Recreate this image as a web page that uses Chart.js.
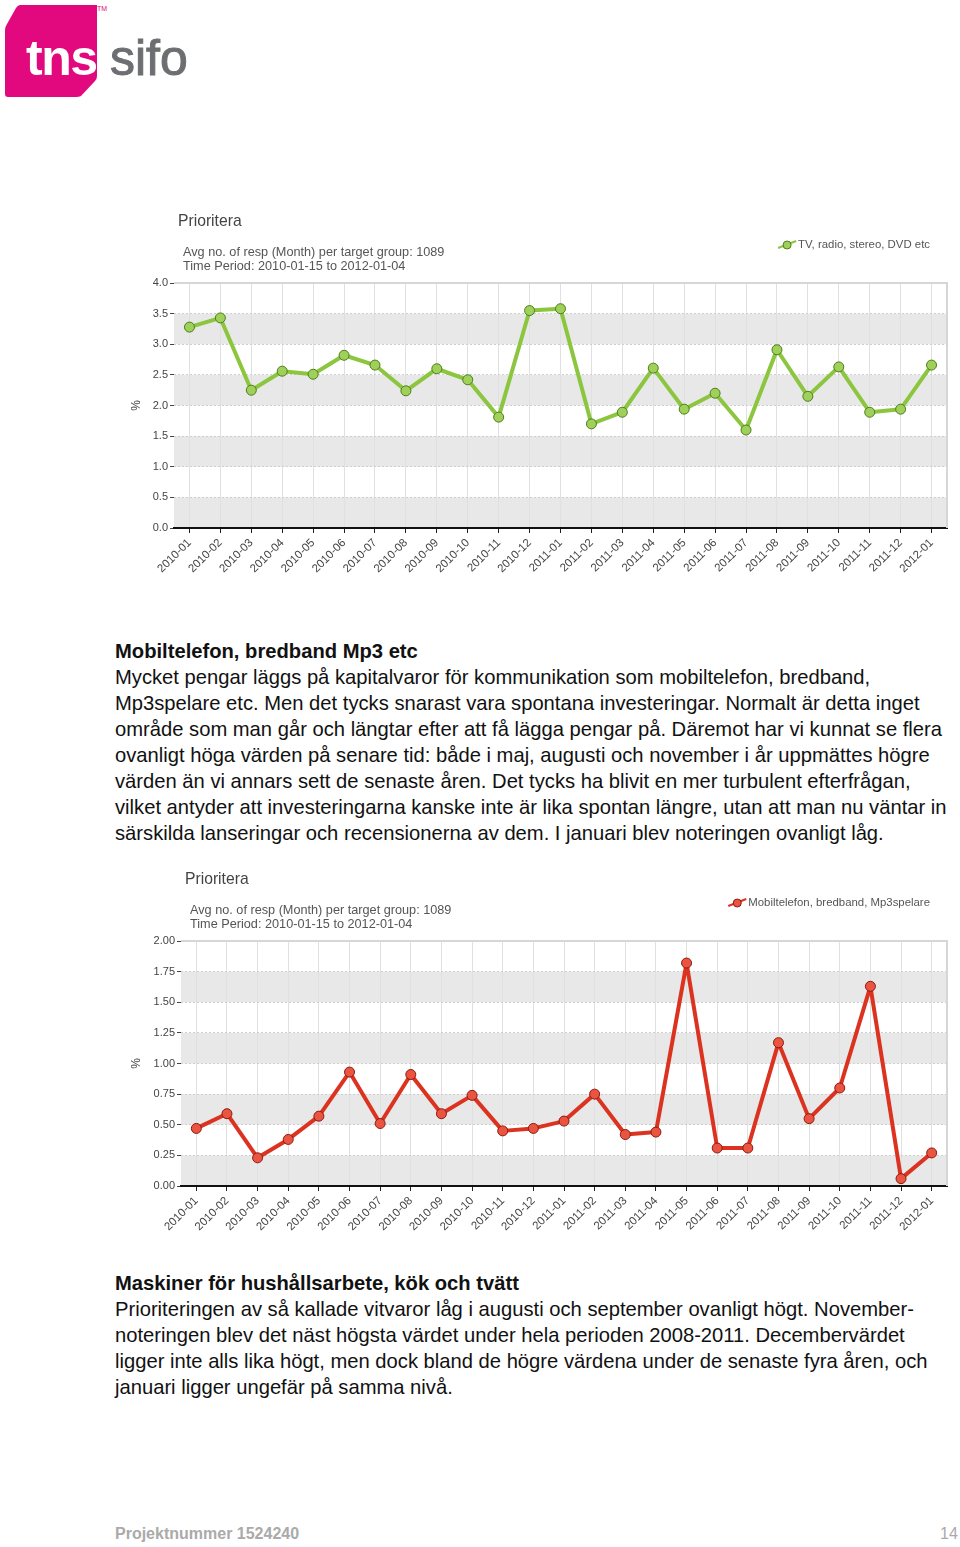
<!DOCTYPE html>
<html>
<head>
<meta charset="utf-8">
<script src="https://cdn.jsdelivr.net/npm/chart.js@4.4.0/dist/chart.umd.min.js"></script>
<style>
  body { margin: 0; background: #fff; font-family: "Liberation Sans", Arial, sans-serif; }
  #page { position: relative; width: 960px; height: 1547px; overflow: hidden; }
  .box { position: absolute; }
  .txt { position: absolute; left: 115px; font-size: 20.2px; line-height: 26px; color: #111; white-space: nowrap; }
  .txt b { font-weight: bold; }
  .foot { position: absolute; top: 1525px; font-size: 16px; color: #aaa; }
</style>
</head>
<body>
<div id="page">

  <!-- logo -->
  <svg class="box" style="left:0;top:0" width="200" height="105">
    <path d="M20 5 L97 5 L97 76 Q97 79 95 81 L81 96 Q79 97 76 97 L8 97 Q5 97 5 94 L5 30 Q5 27 7 24 L16 8 Q18 5 20 5 Z" fill="#e2097e"/>
    <text x="26" y="75" font-family="Liberation Sans, Arial" font-weight="bold" font-size="50" fill="#fff" letter-spacing="-1.5">tns</text>
    <text x="110" y="75" font-family="Liberation Sans, Arial" font-size="50" fill="#6d6e71" stroke="#6d6e71" stroke-width="1">sifo</text>
    <text x="97" y="11" font-family="Liberation Sans, Arial" font-size="7" fill="#e2097e">TM</text>
  </svg>

  <div class="box" style="left:100px;top:195px;width:860px;height:405px"><canvas id="chart1"></canvas></div>

  <div class="txt" style="top:638px">
    <b>Mobiltelefon, bredband Mp3 etc</b><br>
    Mycket pengar läggs på kapitalvaror för kommunikation som mobiltelefon, bredband,<br>
    Mp3spelare etc. Men det tycks snarast vara spontana investeringar. Normalt är detta inget<br>
    område som man går och längtar efter att få lägga pengar på. Däremot har vi kunnat se flera<br>
    ovanligt höga värden på senare tid: både i maj, augusti och november i år uppmättes högre<br>
    värden än vi annars sett de senaste åren. Det tycks ha blivit en mer turbulent efterfrågan,<br>
    vilket antyder att investeringarna kanske inte är lika spontan längre, utan att man nu väntar in<br>
    särskilda lanseringar och recensionerna av dem. I januari blev noteringen ovanligt låg.
  </div>

  <div class="box" style="left:100px;top:853px;width:860px;height:405px"><canvas id="chart2"></canvas></div>

  <div class="txt" style="top:1270px">
    <b>Maskiner för hushållsarbete, kök och tvätt</b><br>
    Prioriteringen av så kallade vitvaror låg i augusti och september ovanligt högt. November-<br>
    noteringen blev det näst högsta värdet under hela perioden 2008-2011. Decembervärdet<br>
    ligger inte alls lika högt, men dock bland de högre värdena under de senaste fyra åren, och<br>
    januari ligger ungefär på samma nivå.
  </div>

  <div class="foot" style="left:115px;font-weight:bold">Projektnummer 1524240</div>
  <div class="foot" style="left:940px">14</div>
</div>

<script>
// data
const months = ['2010-01','2010-02','2010-03','2010-04','2010-05','2010-06','2010-07','2010-08',
                '2010-09','2010-10','2010-11','2010-12','2011-01','2011-02','2011-03','2011-04',
                '2011-05','2011-06','2011-07','2011-08','2011-09','2011-10','2011-11','2011-12','2012-01'];

const tvValues = [3.28, 3.43, 2.25, 2.56, 2.51, 2.82, 2.66, 2.24, 2.60, 2.42, 1.81, 3.55,
                  3.58, 1.70, 1.89, 2.61, 1.94, 2.20, 1.60, 2.91, 2.15, 2.63, 1.89, 1.94, 2.66];

const mobilValues = [0.47, 0.59, 0.23, 0.38, 0.57, 0.93, 0.51, 0.91, 0.59, 0.74, 0.45, 0.47,
                     0.53, 0.75, 0.42, 0.44, 1.82, 0.31, 0.31, 1.17, 0.55, 0.80, 1.63, 0.06, 0.27];

const chartTitle = 'Prioritera';
const subLines = ['Avg no. of resp (Month) per target group: 1089', 'Time Period: 2010-01-15 to 2012-01-04'];

const FONT = '"Liberation Sans", Arial, sans-serif';

// grey stripes behind every other y interval
const bands = {
  id: 'bands',
  beforeDraw(chart) {
    const ctx = chart.ctx, a = chart.chartArea, y = chart.scales.y;
    const ticks = y.ticks;
    ctx.save();
    ctx.fillStyle = '#e8e8e8';
    for (let i = 0; i < ticks.length - 1; i += 2) {
      const y0 = y.getPixelForValue(ticks[i].value);
      const y1 = y.getPixelForValue(ticks[i + 1].value);
      ctx.fillRect(a.left, y1, a.right - a.left, y0 - y1);
    }
    ctx.restore();
  },
  beforeDatasetsDraw(chart) {
    const ctx = chart.ctx, a = chart.chartArea;
    ctx.save();
    ctx.strokeStyle = '#d6d6d6';
    ctx.lineWidth = 2;
    ctx.beginPath();
    ctx.moveTo(a.left, a.top);
    ctx.lineTo(a.right, a.top);
    ctx.lineTo(a.right, a.bottom);
    ctx.stroke();
    ctx.restore();
  }
};

// title, subtitle and the legend entry above the plot
const header = {
  id: 'header',
  afterDraw(chart) {
    const ctx = chart.ctx, a = chart.chartArea;
    const ds = chart.data.datasets[0];
    ctx.save();
    ctx.textBaseline = 'middle';
    ctx.fillStyle = '#444';
    ctx.font = '15.7px ' + FONT;
    ctx.fillText(chartTitle, a.left + 4, a.top - 61);
    ctx.fillStyle = '#555';
    ctx.font = '12.7px ' + FONT;
    ctx.fillText(subLines[0], a.left + 9, a.top - 31);
    ctx.fillText(subLines[1], a.left + 9, a.top - 17);

    ctx.font = '11.4px ' + FONT;
    const w = ctx.measureText(ds.label).width;
    const tx = a.right - 17 - w;
    const ty = a.top - 38;
    ctx.fillStyle = '#555';
    ctx.fillText(ds.label, tx, ty);
    ctx.strokeStyle = ds.borderColor;
    ctx.lineWidth = 2;
    ctx.beginPath();
    ctx.moveTo(tx - 20, ty + 3);
    ctx.lineTo(tx - 2, ty - 4);
    ctx.stroke();
    ctx.beginPath();
    ctx.arc(tx - 11, ty, 4, 0, Math.PI * 2);
    ctx.fillStyle = ds.pointBackgroundColor;
    ctx.fill();
    ctx.lineWidth = 1;
    ctx.strokeStyle = ds.pointBorderColor;
    ctx.stroke();
    ctx.restore();
  }
};

function makeChart(id, label, values, max, step, digits, lineColor, pointFill, pointEdge, yWidth) {
  return new Chart(document.getElementById(id), {
    type: 'line',
    data: {
      labels: months,
      datasets: [{
        label: label,
        data: values,
        borderColor: lineColor,
        borderWidth: 4,
        borderJoinStyle: 'round',
        pointRadius: 5,
        pointBackgroundColor: pointFill,
        pointBorderColor: pointEdge,
        pointBorderWidth: 1,
        tension: 0
      }]
    },
    options: {
      responsive: true,
      maintainAspectRatio: false,
      animation: false,
      layout: { padding: { top: 88, right: 13, left: 25, bottom: 0 } },
      plugins: { legend: { display: false }, tooltip: { enabled: false } },
      scales: {
        x: {
          offset: true,
          afterFit: function (s) { s.height = 72; },
          grid: { color: '#e0e0e0', tickColor: '#222', tickLength: 5 },
          border: { color: '#111', width: 2 },
          ticks: {
            autoSkip: false, maxRotation: 45, minRotation: 45, padding: 3,
            color: '#444', font: { family: FONT, size: 11.5 }
          }
        },
        y: {
          min: 0, max: max,
          afterFit: function (s) { s.width = yWidth; },
          title: { display: true, text: '%', color: '#444', font: { family: FONT, size: 12 } },
          grid: {
            color: function (c) { return c.tick && c.tick.value === max ? 'rgba(0,0,0,0)' : '#cfcfcf'; },
            tickColor: '#444', tickLength: 4
          },
          border: { display: false, dash: [2, 2] },
          ticks: {
            stepSize: step, padding: 2, color: '#444', font: { family: FONT, size: 11 },
            callback: function (v) { return Number(v).toFixed(digits); }
          }
        }
      }
    },
    plugins: [bands, header]
  });
}

makeChart('chart1', 'TV, radio, stereo, DVD etc', tvValues, 4, 0.5, 1,
          '#8cc63f', '#9fd05a', '#4f7d1c', 49);
makeChart('chart2', 'Mobiltelefon, bredband, Mp3spelare', mobilValues, 2, 0.25, 2,
          '#dc3320', '#ea5440', '#8a1b10', 56);
</script>
</body>
</html>
